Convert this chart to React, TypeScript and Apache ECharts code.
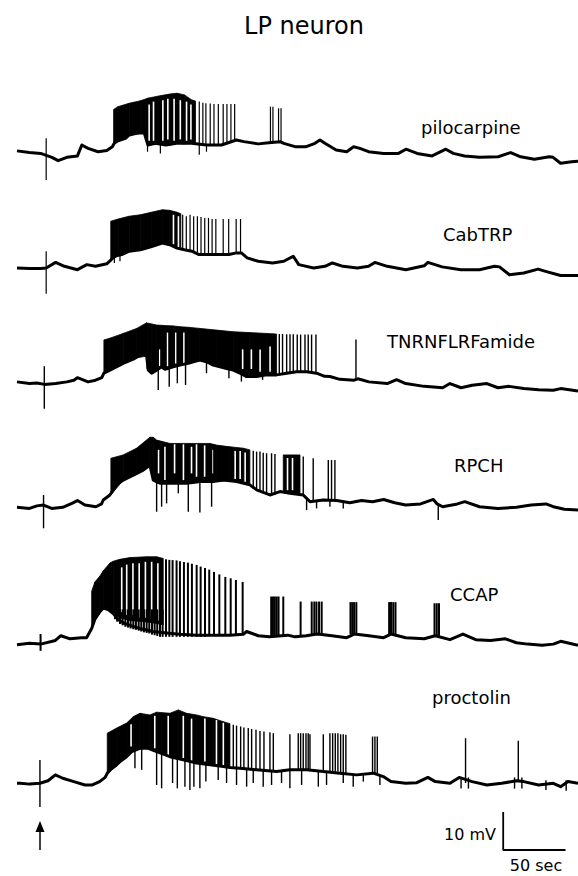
import React, { useEffect, useRef } from "react";
import * as echarts from "echarts";

// ---------- DATA (time in s from trace start, membrane potential in mV relative to rest) ----------
const traceLabels = ["pilocarpine", "CabTRP", "TNRNFLRFamide", "RPCH", "CCAP", "proctolin"];
const titleText = "LP neuron";
const scaleBarMv = 10;
const scaleBarSec = 50;
const scaleBarStart = 390;

// slow potential [t, mV]
const pilocarpineBase = [[0,0.4],[10,-0.2],[19,-0.5],[28,-1.9],[33,-3.1],[40,-1.9],[48.5,-1.4],[52,2.5],[57,1.3],[65,0.1],[72,0.5],[76.5,1.9],[78,3.1],[81,4.0],[87,4.9],[90,6.1],[96,6.7],[102,6.9],[105,2.5],[111,3.1],[119.5,2.5],[128,3.1],[140,3.1],[152,2.5],[164,2.5],[176,4.3],[182,3.7],[193.5,2.9],[202,3.3],[211,3.7],[214,3.1],[223,1.9],[232,1.9],[239,3.1],[243,4.3],[247,3.1],[256,0.7],[264.5,0.1],[270,1.9],[275,1.3],[282,0.1],[294,-0.5],[306,-0.5],[312,1.0],[321,-0.5],[333,-1.4],[344,1.0],[350,-0.5],[359,-1.4],[371,-1.9],[386,-1.7],[396,-0.2],[404,-1.7],[415,-2.6],[427,-1.7],[430,-1.9],[436,-4.0],[445,-3.5],[450,-3.3]];
// dense burst envelopes [t, low, high]
const pilocarpineBand = [[77.5,3.1,15.2],[81,4.0,16.2],[90,6.1,17.4],[99,6.7,18.3],[103,6.7,18.9],[104.7,2.5,19.2],[113.6,2.9,20],[122.5,2.5,20.7],[128.4,3.1,21],[134.3,2.9,20.4],[140.2,3.1,18.6],[143.2,2.9,18.2]];
// white gaps between spikes inside a burst [t, low, high]
const pilocarpineGaps = [[106,4,17],[109.5,4,18],[117,4,18.5],[121,4.5,19],[126,4,19],[131,4.5,18.5],[136,4,18],[139.5,4.5,17]];
// single spikes / deflections [t, low, high]
const pilocarpineSpikes = [[23.4,-10,4.9],[104.7,0.1,2.5],[115,-0.5,3],[146.2,-1,3],[152,0.1,2.5],[146.2,2.5,18],[149.1,2.5,17.6],[151.5,2.5,17.4],[155,2.5,17.3],[158,2.5,17.1],[161.5,2.5,17.1],[165.4,2.7,17.1],[168.4,3,17.1],[171.6,3.5,17.1],[174.6,4,17.1],[203.3,3.3,16.2],[205.3,3.3,16.2],[209.8,3.5,15.6],[211.8,3.5,15.6]];

const cabtrpBase = [[0,0],[10,-0.2],[19,-0.2],[23.4,0],[31,2],[38,0.6],[48.5,-0.6],[56,1.2],[63,0.6],[72,1.5],[75,2.7],[78,4.2],[84,4.8],[90,6],[99,6.5],[108,7.7],[116.6,8.9],[122.5,8.3],[128.4,7.1],[134.3,6.5],[140.2,6],[146,4.8],[158,4.8],[170,4.8],[176,5.4],[180,5.4],[184.6,3.6],[193.5,2.4],[205,1.8],[214,2.4],[221.6,4.2],[226,1.2],[238,0],[247,0.6],[253,1.8],[261.5,0.6],[273,0],[282,0.6],[287,2],[297,0.6],[312,-0.6],[326.6,0.8],[329.6,2],[341,0.4],[356,-0.6],[371,-0.6],[383,0.6],[387,0.4],[395,-2.4],[406.5,-1.8],[418,-0.4],[424,-1.2],[436,-2.7],[450,-2.7]];
const cabtrpBand = [[75.2,2.7,16.7],[81.1,4.4,17.5],[90,6,18.5],[98.8,6.5,19],[107.7,7.7,19.9],[116.6,8.9,20.8],[122.5,8.3,20.6],[128.4,7.1,19.9],[131.4,6.8,19.4]];
const cabtrpGaps = [[125.5,8.5,19],[129.5,7.5,18.5]];
const cabtrpSpikes = [[23.4,-9.2,6],[78.1,1.8,4.2],[82.6,2.4,4.5],[132.9,6.5,19],[135.8,6.4,18.5],[138.8,6.2,19],[141.7,6,18.5],[144.7,5.5,18.5],[147.6,4.8,18.2],[150.6,4.8,17.9],[153.6,4.8,17.9],[156.5,4.8,17.5],[159.5,4.8,17.5],[165.4,4.8,17.5],[169.8,4.8,17.5],[175.8,5.4,17.5],[179.3,5.4,17.5]];

const tnrnBase = [[0,0.4],[10,-0.2],[16,0],[22,-0.5],[31,-0.2],[40,0.4],[45.6,1],[48.5,1.9],[57,0.4],[63,1],[68,1.9],[69.7,3.5],[74.5,4.6],[85.2,7],[93.3,8.5],[101.3,10.6],[104,9.6],[105.3,4.6],[108,3.5],[112,4.6],[116,5.8],[118.7,4.9],[125.3,5.8],[130.7,6.4],[137.4,7],[141.4,7.6],[146.7,8.2],[152.1,7.6],[157.4,6.4],[162.8,5.8],[168.1,5.2],[173.5,4.6],[178.8,3.5],[184.2,2.3],[192.2,2.3],[200.2,2.9],[208.2,2.9],[216.3,3.5],[224.3,4],[232.3,4],[240.3,3.5],[246.8,2.4],[251,2.3],[259,1.3],[270.4,1],[273.4,1.5],[282.3,0.4],[297,-0.2],[304.5,1.2],[311.8,-0.2],[326.6,-1.2],[341.4,-1.7],[347.3,-0.2],[356.2,-1.7],[365.1,-0.8],[376.9,-0.2],[385.8,-1.7],[394.7,-1.2],[406.5,-2],[418.4,-2.4],[430.2,-2.6],[436.1,-2],[450,-2.9]];
const tnrnBand = [[69.7,3.5,15.4],[74.5,4.6,16],[85.2,7,17.7],[96,9,19.5],[104,9.6,21.5],[104.5,5,21.4],[108,3.5,21.1],[112,4.6,20.7],[116,5.8,20.6],[118.7,4.9,20.5],[125.3,5.8,20.4],[130.7,6.4,20.1],[137.4,7,19.9],[146.7,8.2,19.5],[160.1,6.1,18.9],[173.5,4.6,18.3],[186.8,2.3,18],[200.2,2.9,17.7],[208.2,2.9,17.5]];
const tnrnGaps = [[114.2,6,12],[120.8,6,18],[127.4,7,18],[133.9,7,18],[181,5,12],[188,5,12],[195,4,12],[203,4,13]];
const tnrnSpikes = [[21.9,-9.2,6],[113.3,-2.5,20.7],[122.1,-1.3,20.4],[128.6,-0.1,20.1],[135.2,-0.7,19.9],[152,3.5,7.6],[170,1.7,5],[180,0.5,3.5],[197,1.1,2.6],[210.4,3.5,17.5],[213,3.5,17.5],[216.3,3.5,17.4],[219,3.8,17.4],[221.6,4,17.4],[224.8,4,17.3],[227.5,4,17.3],[231,4,17.3],[233.6,3.8,17.3],[236.3,3.5,17.3],[239.8,3.5,17.3],[271.9,1,15.5]];

const rpchBase = [[0,-0.1],[10,-0.5],[16,0.4],[21.3,0.7],[27.8,-0.5],[36.7,-0.1],[44,1.3],[48.5,2.3],[54.5,0.7],[63.3,0.1],[67.8,1.1],[69.2,2.5],[74.5,4.3],[79.9,7.9],[85.2,9.6],[93.3,11.4],[101.3,13.2],[106.6,15],[109.3,9.6],[114.7,8.5],[125.3,8.5],[136,8.5],[146.7,9.1],[157.4,9.1],[165.5,9.6],[176.1,9.1],[186.8,7.9],[192.2,6.1],[202.9,4.3],[210.9,5.5],[218.9,4.9],[229.6,4.3],[235,1.9],[245.7,2.5],[256.4,2.3],[267,1.5],[276.3,2.3],[285.2,1.9],[294.1,2.7],[303,1.5],[311.8,0.7],[323.7,1.1],[334,2.7],[337,1.1],[341.4,0.1],[353.3,1.1],[359.2,1.9],[371,0.1],[385.8,-0.5],[400.6,-0.1],[412.4,0.7],[424.3,1.1],[430.2,0.1],[439.1,-0.8],[450,-1.1]];
const rpchBandA = [[75.3,4.3,17.4],[85.2,9.6,18.6],[95.9,12,21],[106.6,15,24.9],[109.3,9.6,24.9],[112,8.5,23.9],[122.7,8.5,22.7],[138.7,8.5,22.7],[154.8,9.1,22.7],[160.1,9.1,22.1],[170.8,9.6,21.5],[181.5,8.5,21],[186.8,7.9,20.4]];
const rpchBandB = [[213.6,5.2,18.6],[227,4.5,18.6]];
const rpchGaps = [[113.5,12,20.4],[118.7,9.6,21.5],[126.4,12,22.4],[133.5,9.6,22.4],[140,12,21.5],[144,10.8,22.4],[150.5,10.8,22],[156.7,12,20.4],[175,10,20],[179,10,20],[183,9,19.5],[217,6,17.5],[221,6,17.5]];
const rpchSpikes = [[21.3,-7.6,4.3],[112,-1.7,23.9],[116,0.1,23.5],[120,1.3,23],[129.4,4.9,22.7],[137.4,-1.7,22.7],[146.7,-2,22.7],[156.1,0.1,22.5],[189.5,6.5,20.1],[192.2,6,19.8],[194.9,5.5,19.8],[197.5,5,19.4],[200.2,4.5,19.2],[204.2,4.3,19.2],[206.9,4.5,18.9],[229.6,4.3,18],[237.6,2,17.4],[249.7,2.5,16.8],[252.3,2.5,16.8],[255,2.5,16.8],[232.3,-1.1,2.5],[240.3,-0.5,2.5],[251,0.1,2.5],[261.7,-0.5,2],[337.9,-4.6,1]];

const ccapBase = [[0,-0.6],[10,-0.1],[19,-0.4],[30.8,0.9],[35.2,2.6],[42.6,1.5],[51.5,1.9],[55.8,1.9],[59.9,5.2],[62.5,8.5],[66.5,11.2],[69.2,12.5],[73.2,11.9],[77.2,10.5],[81,8.5],[85.3,7.2],[90.6,6.3],[98.6,5.2],[109.3,4.1],[120,3.6],[130.7,3.1],[144.1,2.8],[157.5,2.8],[170.8,2.8],[181.5,3.1],[184.2,4.1],[193.5,2.6],[202.4,2.2],[217.2,2.8],[223.1,2.2],[232,2.6],[240.8,3.2],[252.7,2.6],[264.5,1.9],[270.4,3.2],[282.3,2.6],[294.1,1.9],[300,3.2],[311.8,1.9],[326.6,1.5],[335.5,2.6],[347.3,1.2],[357.7,3.2],[368,1.2],[379.9,0.9],[391.7,1.5],[400.6,0.1],[409.5,-0.4],[421.3,-0.8],[430.2,-0.4],[436.1,0.6],[450,-0.8]];
const ccapBand = [[59.9,5.2,18.5],[62.5,8.5,21.8],[66.5,11.2,23.9],[69.2,12.5,25.8],[74.6,11.5,28.6],[77.2,10.5,29.2],[82.6,9,29.9],[90.6,8,30.5],[104,7.5,30.8],[112,7,30.8],[117.3,6.5,30.2]];
const ccapGaps = [[84,11,27],[88,10,28],[93,10,28.5],[98,9,28.5],[103,9,29],[108,8.5,29],[113,8,28.5]];
const ccapSpikes = [[18.9,-2.8,3.2],
  [78.6,8.5,12],[80.4,7.6,12],[82.6,6.8,12],[84.7,6.3,12],[86.9,5.8,12],[89,5.5,12],[91.1,5.2,12],[93.3,4.9,12],[95.4,4.7,12],[97.6,4.4,12],[99.7,4.1,12],[101.8,3.8,12],[104,3.6,12],[106.1,3.4,12],[108.3,3,12],[110.4,2.8,12],[112.5,2.5,12],[114.7,2.2,12],[116.8,2.2,12],
  [119.5,2.2,29.9],[122.2,2.2,29.7],[124.8,2.2,29.6],[128,2.2,29.5],[130.7,2.2,29.2],[133.9,2.2,28.9],[137.1,2.2,28.7],[140.3,2.2,28.3],[144.1,2.2,27.9],[147.3,2.2,27.3],[150.8,2.2,26.8],[154.2,2.5,26.2],[158,2.5,25.4],[162.3,2.5,24.5],[167.1,2.5,23.6],[171.4,2.5,23.1],[175.6,2.8,22.5],[181,3.1,21.8],
  [203.9,2.2,16.6],[205.3,2.2,16.6],[206.8,2.2,16.6],[208.3,2.2,16.6],[209.8,2.2,16.6],[213.6,2.2,16.6],[227.5,2.6,14.8],[236.4,3.1,14.8],[238.5,3.1,14.8],[240.2,3.1,14.8],[242.3,3.1,14.8],[244.4,3.1,14.8],[267.5,3.2,14.6],[268.9,3.2,14.6],[270.4,3.2,14.6],[272.2,3.2,14.6],[298.5,3.2,14.6],[300,3.2,14.6],[301.8,3.2,14.6],[303.6,3.2,14.6],[334.9,2.6,14.2],[336.7,2.6,14.2],[338.5,2.6,14.2]];

const proctolinBase = [[0,-0.1],[2.7,-0.1],[10.1,-0.4],[18.4,-0.1],[24.9,0.8],[30.8,2.9],[36.7,1.7],[45.6,0.5],[54.5,-0.7],[60.4,-0.7],[66.3,0.5],[70.7,2],[72.4,3.5],[77.2,5.9],[82.6,7.7],[87.9,9.4],[91.9,11.2],[98.6,12.4],[105.3,12.4],[112,11.2],[122.7,9.4],[133.4,8.3],[144.1,7.1],[154.8,6.5],[165.5,5.9],[170.8,5.5],[178.8,5.3],[192.2,4.7],[208.2,4.1],[218.9,4.7],[232.3,4.7],[245.7,4.1],[259,3.5],[272.4,2.9],[285.8,3.5],[293.8,2.3],[300,0.5],[311.8,-0.1],[320.7,0.1],[329.6,2],[335.5,0.5],[347.3,-0.1],[354.7,2],[365.1,0.5],[376.9,-0.7],[388.8,-0.1],[400.6,0.8],[406.5,0.5],[418.4,-0.7],[430.2,-0.1],[436.1,-1.3],[442,0.5],[450,-0.1]];
const proctolinBand = [[72.4,3.5,17.8],[79.9,5.9,19.6],[87.9,9.4,21.4],[93.3,11.2,23.7],[98.6,12.4,24.9],[106.6,12.4,24.3],[112,11.2,25.3],[122.7,9.4,24.9],[129.4,9,26.1],[136,8.5,24.9],[144.1,7.1,24.3],[149.4,6.8,23.7],[157.4,6.4,23.1],[165.5,5.9,21.9],[170.8,5.5,21.2]];
const proctolinGaps = [[91.5,13,21],[110.5,12.4,24],[121.3,10,24],[133.4,8.9,24],[140,7.7,23],[150.7,7.7,23],[160,6.5,22.5],[165.5,6.2,21.5]];
const proctolinSpikes = [[18.4,-8.6,8.2],
  [94.6,5.3,12],[100,4.7,12.4],[112,-0.7,11],[116,-1.9,10.5],[124.8,0,9.4],[128.6,-1.9,9],[134.7,-1.3,8.3],[138.7,-2.5,8],[141.9,-1.3,7.5],[146.7,-1.9,7],[151.5,0.5,6.8],[161.4,1.1,6.2],[168.1,0,5.7],[176.1,-0.7,5.3],[184.2,-1.3,5],[189.5,0,4.8],[197.5,-1.3,4.5],[204.2,-0.7,4.3],[212.2,0,4.3],[218.9,-1.9,4.7],[228.3,-0.7,4.7],[241.7,-1.3,4.3],[248.3,-0.7,4.1],[261.7,0,3.5],[269.7,-1.3,3],[277.8,0.5,3],[291.1,-0.7,2.5],
  [173.5,5.3,20.8],[176.1,5.3,20.5],[179.4,5.2,20.2],[182,5,19.8],[185.5,5,19.6],[188.2,4.9,19.3],[191.7,4.8,19],[194.9,4.6,18.6],[198.1,4.5,18.4],[202.9,4.3,18.1],[205.6,4.2,17.8],[218.9,4.7,17.4],[225.6,4.7,17.8],[227.5,4.7,17.8],[229.6,4.7,17.8],[231.8,4.7,17.8],[233.6,4.7,17.8],[235,4.7,17.4],[245.7,4.1,17.4],[251,4,17.8],[253.2,4,17.8],[255.3,4,17.8],[257.4,4,17.8],[259.6,3.5,17.4],[261.7,3.5,17.4],[263.8,3.4,17.2],[285.2,3.5,16.6],[287.1,3.5,16.6],[289,3.5,16.6],
  [359.8,0,16],[402.1,0.5,15.1],[356.2,-2,2],[362.1,-2,2],[399.1,-2,2],[405,-2,2],[424.3,-2.5,1],[440.5,-2.8,1]];

const traces = [
  { base: pilocarpineBase, bands: [pilocarpineBand], gaps: pilocarpineGaps, spikes: pilocarpineSpikes, spikeWidth: 1.2 },
  { base: cabtrpBase, bands: [cabtrpBand], gaps: cabtrpGaps, spikes: cabtrpSpikes, spikeWidth: 1.2 },
  { base: tnrnBase, bands: [tnrnBand], gaps: tnrnGaps, spikes: tnrnSpikes, spikeWidth: 1.4 },
  { base: rpchBase, bands: [rpchBandA, rpchBandB], gaps: rpchGaps, spikes: rpchSpikes, spikeWidth: 1.4 },
  { base: ccapBase, bands: [ccapBand], gaps: ccapGaps, spikes: ccapSpikes, spikeWidth: 2 },
  { base: proctolinBase, bands: [proctolinBand], gaps: proctolinGaps, spikes: proctolinSpikes, spikeWidth: 1.4 },
];

// ---------- LAYOUT ----------
const W = 578, H = 876;
const PX_PER_MV = 2.8;
const BAR_PX_PER_MV = 3.8;
const Y_MIN = -15, Y_MAX = 30;
const baselines = [152, 268, 383, 507, 643, 783];
const barBaseline = 850;
const labelPos = [[421, 127], [443, 234], [387, 341], [454, 465], [450, 594], [432, 697]];
const FONT = "'DejaVu Sans', sans-serif";

export default function App() {
  const ref = useRef<HTMLDivElement>(null);
  useEffect(() => {
    const chart = echarts.init(ref.current!, null, { renderer: "svg" });
    const grids: any[] = [];
    const xAxes: any[] = [];
    const yAxes: any[] = [];
    const series: any[] = [];
    const addGrid = (b: number, pxPerMv: number) => {
      grids.push({ left: 17, width: 561, top: b - Y_MAX * pxPerMv, height: (Y_MAX - Y_MIN) * pxPerMv, outerBoundsMode: "none", containLabel: false });
      xAxes.push({ type: "value", min: 0, max: 450, show: false, gridIndex: grids.length - 1 });
      yAxes.push({ type: "value", min: Y_MIN, max: Y_MAX, show: false, gridIndex: grids.length - 1 });
    };
    baselines.forEach((b) => addGrid(b, PX_PER_MV));
    addGrid(barBaseline, BAR_PX_PER_MV);

    const vline = (width: number, color: string) => (params: any, api: any) => {
      const p1 = api.coord([api.value(0), api.value(1)]);
      const p2 = api.coord([api.value(0), api.value(2)]);
      return { type: "line", shape: { x1: p1[0], y1: p1[1], x2: p2[0], y2: p2[1] }, style: { stroke: color, lineWidth: width } };
    };

    traces.forEach((tr, gi) => {
      series.push({
        type: "line", xAxisIndex: gi, yAxisIndex: gi, data: tr.base, showSymbol: false, symbol: "none",
        lineStyle: { color: "#000", width: 3, join: "round" }, silent: true, clip: false,
      });
      const items: any[] = [];
      tr.bands.forEach((band, b) => band.forEach((p) => items.push([p[0], p[1], p[2], b])));
      series.push({
        type: "custom", xAxisIndex: gi, yAxisIndex: gi, data: items, silent: true, clip: false,
        encode: { x: 0, y: [1, 2] },
        renderItem: (params: any, api: any) => {
          const i = params.dataIndex;
          const cur = items[i], nxt = items[i + 1];
          if (!nxt || nxt[3] !== cur[3]) return { type: "group", children: [] };
          const a = api.coord([cur[0], cur[2]]);
          const bb = api.coord([nxt[0], nxt[2]]);
          const c = api.coord([nxt[0], nxt[1]]);
          const d = api.coord([cur[0], cur[1]]);
          return { type: "polygon", shape: { points: [a, bb, c, d] }, style: { fill: "#000", stroke: "#000", lineWidth: 0.8 } };
        },
      });
      series.push({
        type: "custom", xAxisIndex: gi, yAxisIndex: gi, data: tr.gaps, silent: true, clip: false,
        encode: { x: 0, y: [1, 2] }, renderItem: vline(1.6, "#fff"),
      });
      series.push({
        type: "custom", xAxisIndex: gi, yAxisIndex: gi, data: tr.spikes, silent: true, clip: false,
        encode: { x: 0, y: [1, 2] }, renderItem: vline(tr.spikeWidth, "#000"),
      });
    });
    // scale bar
    const sb = grids.length - 1;
    series.push({
      type: "line", xAxisIndex: sb, yAxisIndex: sb, showSymbol: false, symbol: "none", silent: true,
      data: [[scaleBarStart, scaleBarMv], [scaleBarStart, 0], [scaleBarStart + scaleBarSec, 0]],
      lineStyle: { color: "#000", width: 1.8 },
    });

    const ts = (text: string, size: number, align: string) => ({
      text, fontSize: size, fontFamily: FONT, fontWeight: "normal", fill: "#000",
      align, verticalAlign: "middle", textAlign: align, textVerticalAlign: "middle",
    });
    const graphic: any[] = [
      { type: "text", x: 304, y: 26, style: ts(titleText, 24, "center") },
      ...traceLabels.map((l, i) => ({ type: "text", x: labelPos[i][0], y: labelPos[i][1], style: ts(l, 18, "left") })),
      { type: "text", x: 496, y: 834, style: ts(`${scaleBarMv} mV`, 16, "right") },
      { type: "text", x: 536, y: 865, style: ts(`${scaleBarSec} sec`, 16, "center") },
      { type: "line", shape: { x1: 40, y1: 850, x2: 40, y2: 828 }, style: { stroke: "#000", lineWidth: 1.5 } },
      { type: "polygon", shape: { points: [[35.5, 832], [40, 821], [44.5, 832]] }, style: { fill: "#000" } },
    ];

    chart.setOption({
      animation: false,
      backgroundColor: "#fff",
      grid: grids,
      xAxis: xAxes,
      yAxis: yAxes,
      series,
      graphic,
    });
    return () => chart.dispose();
  }, []);
  return <div ref={ref} style={{ width: W, height: H, position: "absolute", left: 0, top: 0 }} />;
}
